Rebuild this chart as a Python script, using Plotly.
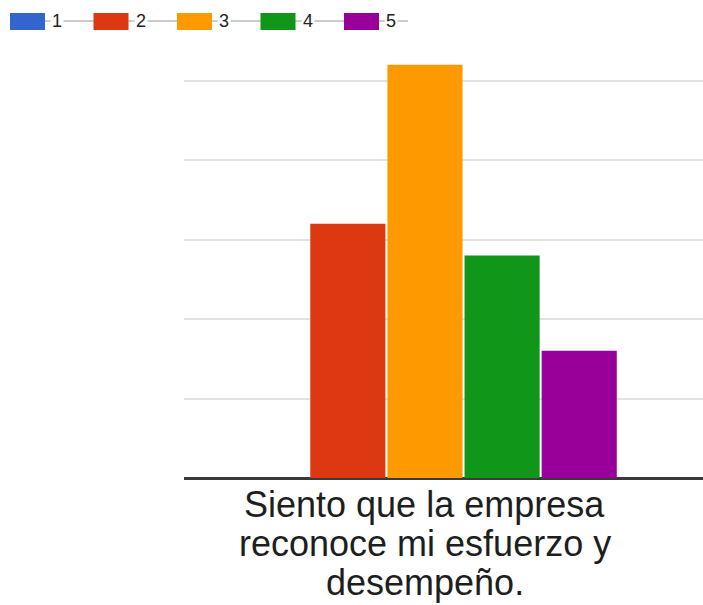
import plotly.graph_objects as go

# Survey answer: count of responses per score for a single statement
QUESTION = "Siento que la empresa reconoce mi esfuerzo y desempeño."
QUESTION_LINES = ["Siento que la empresa", "reconoce mi esfuerzo y", "desempeño."]
SCORES = ["1", "2", "3", "4", "5"]
COUNTS = [0, 16, 26, 14, 8]
COLORS = ["#3366cc", "#dc3912", "#ff9900", "#109618", "#990099"]

W, H = 703, 605
ML, MR, MT, MB = 184, 0, 40, 127
PW, PH = W - ML - MR, H - MT - MB


def px_x(x):
    """figure pixel x -> paper fraction"""
    return (x - ML) / PW


def px_y(y):
    """figure pixel y (from top) -> paper fraction"""
    return (H - MB - y) / PH


fig = go.Figure()
for name, val, col in zip(SCORES, COUNTS, COLORS):
    fig.add_trace(go.Bar(
        x=[QUESTION], y=[val], name=name,
        marker=dict(color=col, line=dict(width=0)),
    ))

# Custom legend across the top: swatch + label, joined by a thin gray line
shapes = [dict(type="line", xref="paper", yref="paper",
               x0=px_x(45), x1=px_x(408), y0=px_y(21), y1=px_y(21),
               line=dict(color="#cccccc", width=2), layer="above")]
annotations = []
step = 83.5
for i, (name, col) in enumerate(zip(SCORES, COLORS)):
    x0 = 10 + i * step
    shapes.append(dict(type="rect", xref="paper", yref="paper",
                       x0=px_x(x0), x1=px_x(x0 + 35),
                       y0=px_y(30), y1=px_y(13),
                       fillcolor=col, line=dict(color=col, width=0),
                       layer="above"))
    annotations.append(dict(
        xref="paper", yref="paper", x=px_x(x0 + 47), y=px_y(21),
        text=name, showarrow=False, xanchor="center", yanchor="middle",
        font=dict(size=18, color="#222222"), bgcolor="white", borderpad=1,
    ))

# Category label, one annotation per line for tight line spacing
for line, shift in zip(QUESTION_LINES, [-26, -65, -104.5]):
    annotations.append(dict(
        xref="x", yref="paper", x=QUESTION, y=0, yshift=shift,
        text=line, showarrow=False, xanchor="center", yanchor="middle",
        font=dict(size=36, color="#1e1e1e", family="Arial, Liberation Sans"),
    ))

fig.update_xaxes(range=[-0.4643, 0.5357], showticklabels=False,
                 showgrid=False, zeroline=False, showline=False)
fig.update_yaxes(range=[0, 27.56], dtick=5, showticklabels=False,
                 gridcolor="#e2e2e2", gridwidth=2,
                 zeroline=True, zerolinecolor="#3a3a3a", zerolinewidth=2.5)
fig.update_layout(
    width=W, height=H,
    margin=dict(l=ML, r=MR, t=MT, b=MB),
    barmode="group", bargap=0.257, bargroupgap=0.026,
    showlegend=False,
    plot_bgcolor="white", paper_bgcolor="white",
    font=dict(family="Arial, Liberation Sans", color="#222222"),
    shapes=shapes, annotations=annotations,
)

fig.write_html("out.html", config={"displayModeBar": False},
               post_script="document.body.style.margin='0';")
